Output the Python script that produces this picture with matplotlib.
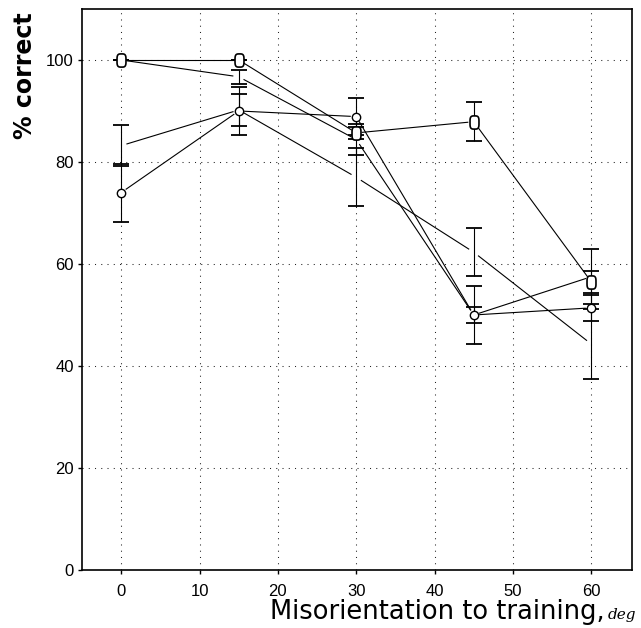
import matplotlib
matplotlib.use("Agg")
import matplotlib.pyplot as plt
import numpy as np
from matplotlib import font_manager
from matplotlib.path import Path

# misorientation angles (deg)
x = [0, 15, 30, 45, 60]

# % correct, four conditions, with error half-widths
condA = [100.0, 100.0, 85.7, 87.9, 56.5]
errA = [0.0, 0.0, 1.2, 3.8, 2.2]
condB = [100.0, 96.7, 84.4, 50.0, 57.5]
errB = [0.0, 1.4, 3.0, 1.5, 5.4]
condC = [74.0, 90.0, 88.9, 50.0, 51.4]
errC = [5.7, 4.7, 3.7, 5.7, 2.5]
condD = [83.2, 90.2, 77.0, 62.3, 44.3]
errD = [4.0, 3.2, 5.7, 4.7, 6.8]

xticks = [0, 10, 20, 30, 40, 50, 60]
yticks = [0, 20, 40, 60, 80, 100]


def pick_font():
    for name in ['Liberation Sans Narrow', 'DejaVu Sans Condensed']:
        try:
            font_manager.findfont(font_manager.FontProperties(family=name), fallback_to_default=False)
            return name
        except Exception:
            pass
    return 'Liberation Sans'


tick_font = pick_font()

# tall rounded "O" marker
t = np.linspace(0, 2 * np.pi, 60)
c, s = np.cos(t), np.sin(t)
big_o = Path(np.column_stack([0.68 * np.sign(c) * np.abs(c) ** 0.55,
                              np.sign(s) * np.abs(s) ** 0.55]))

fig = plt.figure(figsize=(6.41, 6.28), dpi=100)
ax = fig.add_axes([0.128, 0.0924, 0.858, 0.8933])
ax.set_xlim(-5, 65.2)
ax.set_ylim(0, 110)


def gapped(xs, ys, gap=6):
    # line segments stop a few pixels short of each point
    pts = ax.transData.transform(np.column_stack([xs, ys]))
    inv = ax.transData.inverted()
    for p0, p1 in zip(pts[:-1], pts[1:]):
        d = p1 - p0
        u = d / np.hypot(*d)
        seg = inv.transform(np.array([p0 + u * gap, p1 - u * gap]))
        ax.plot(seg[:, 0], seg[:, 1], color='black', lw=0.8, zorder=2)


ebkw = dict(fmt='none', ecolor='black', elinewidth=0.8, capsize=5.5, capthick=1.3, zorder=3)
for vals, errs in [(condA, errA), (condB, errB), (condC, errC), (condD, errD)]:
    gapped(x, vals)
    ax.errorbar(x, vals, yerr=errs, **ebkw)

ax.plot(x, condA, ls='none', marker=big_o, ms=9.5, mfc='white', mec='black', mew=1.2, zorder=4)
ax.plot(x, condC, ls='none', marker='o', ms=6, mfc='white', mec='black', mew=1.0, zorder=4)

ax.set_xticks(xticks)
ax.set_yticks(yticks)
ax.set_xticklabels([str(v) for v in xticks], family=tick_font, fontsize=12)
ax.set_yticklabels([str(v) for v in yticks], family=tick_font, fontsize=12)
ax.tick_params(axis='x', direction='out', length=3, width=1, pad=7)
ax.tick_params(axis='y', direction='out', length=3, width=1, pad=3)
ax.grid(True, color='#222222', linestyle=(0, (1, 5)), linewidth=0.75)
ax.set_axisbelow(True)
for sp in ax.spines.values():
    sp.set_linewidth(1.2)

fig.text(25 / 641, 1 - 76 / 628, '% correct', rotation=90, ha='center', va='center',
         fontsize=17, fontweight='bold', family='DejaVu Sans')
fig.text(605 / 641, 1 - 619 / 628, 'Misorientation to training,', ha='right', va='baseline',
         fontsize=18.5, family='DejaVu Sans')
fig.text(608 / 641, 1 - 619 / 628, 'deg', ha='left', va='baseline',
         fontsize=11, style='italic', family='DejaVu Serif')

fig.savefig('out.png', dpi=100)
